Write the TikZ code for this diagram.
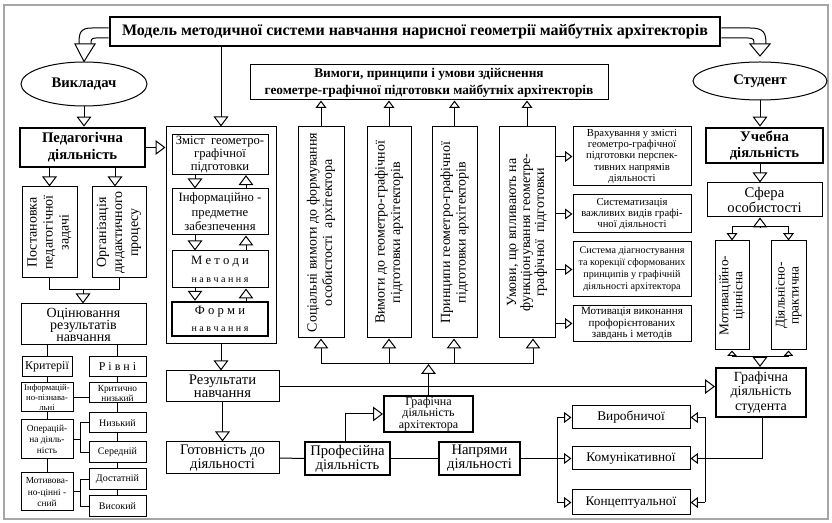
\documentclass[tikz,border=0pt]{standalone}
\usepackage{fontspec}
\setmainfont{Liberation Serif}
\usetikzlibrary{arrows.meta,shapes.geometric,calc}
\newcommand\fs[2]{\fontsize{#1}{#2}\selectfont}
\newcommand\bx[7]{\node[#6, minimum width={(#4-#2)*0.75pt}, minimum height={(#5-#3)*0.75pt}] (#1) at ({(#2+#4)/2},{(#3+#5)/2}) {#7};}
\newcommand\vbx[8]{\bx{#1}{#2}{#3}{#4}{#5}{#6}{}\node[rotate=90,align=center,inner sep=0pt,font=#7] at (#1.center) {#8};}
\begin{document}
\begin{tikzpicture}[x=0.75pt,y=-0.75pt,line width=0.75pt,
  box/.style={draw,inner sep=1pt,align=center},
  tbox/.style={box,line width=2pt},
  tri/.style={-{Triangle[open,length=7.5pt,width=11pt]}},
  tris/.style={-{Triangle[open,length=5.5pt,width=8pt]}},
  trit/.style={-{Triangle[open,length=4pt,width=7pt]}}]
\useasboundingbox (0,0) rectangle (832,523);
\draw[gray!70,line width=1pt] (4,5) rectangle (828,519);

% title and actors
\bx{title}{110}{17}{720}{46}{tbox,font=\fs{12pt}{14pt}\bfseries}{Модель методичної системи навчання нарисної геометрії майбутніх архітекторів}
\node[draw,ellipse,minimum width=94.5pt,minimum height=33pt,inner sep=0pt,font=\fs{11pt}{12pt}\bfseries] (vykl) at (84,84) {Викладач};
\node[draw,ellipse,minimum width=100.5pt,minimum height=28.5pt,inner sep=0pt,font=\fs{11pt}{12pt}\bfseries] (stud) at (760,81) {Студент};

\draw (title.west |- 0,28) -- (92,28) .. controls (80,28) and (79,33) .. (79,44);
\draw (title.west |- 0,38) -- (96,38) .. controls (91,38) and (91,40) .. (91,44);
\draw[fill=white] (75,44) -- (95,44) -- (vykl.north) -- cycle;
\draw (title.east |- 0,28) -- (750,28) .. controls (764,28) and (766,33) .. (766,44);
\draw (title.east |- 0,38) -- (748,38) .. controls (754,38) and (754,40) .. (754,44);
\draw[fill=white] (750,44) -- (770,44) -- (760,56) -- cycle;

\bx{vym}{250}{65}{608}{100}{box,font=\fs{10pt}{12.5pt}\bfseries}{Вимоги, принципи і умови здійснення\\геометре-графічної підготовки майбутніх архітекторів}

% left column
\bx{ped}{20}{128}{145}{167}{tbox,font=\fs{11pt}{13pt}\bfseries}{Педагогічна\\діяльність}
\vbx{post}{22}{187}{77}{278}{box}{\fs{10.5pt}{12pt}}{Постановка\\педагогічної\\задачі}
\vbx{org}{92}{187}{146}{278}{box}{\fs{10.5pt}{12pt}}{Організація\\дидактичного\\процесу}
\bx{ots}{21}{304}{146}{345}{box,font=\fs{10.5pt}{9pt}}{Оцінювання\\результатів\\навчання}
\bx{krit}{22}{357}{72}{377}{box,font=\fs{9pt}{10pt}}{Критерії}
\bx{rivni}{89}{357}{146}{377}{box,font=\fs{9pt}{10pt}}{Р і в н і}
\bx{k1}{21}{383}{73}{412}{box,inner sep=0pt,font=\fs{6.5pt}{7.2pt}}{Інформацій-\\но-пізнава-\\льні}
\bx{k2}{21}{420}{73}{459}{box,inner sep=0pt,font=\fs{7pt}{8.5pt}}{Операцій-\\на діяль-\\ність}
\bx{k3}{21}{473}{73}{511}{box,inner sep=0pt,font=\fs{7pt}{8.5pt}}{Мотивова-\\но-цінні -\\сний}
\bx{r1}{89}{383}{146}{403}{box,inner sep=0pt,font=\fs{7pt}{7.5pt}}{Критично\\низький}
\bx{r2}{89}{413}{146}{433}{box,font=\fs{7.5pt}{8pt}}{Низький}
\bx{r3}{89}{442}{146}{463}{box,font=\fs{7.5pt}{8pt}}{Середній}
\bx{r4}{89}{469}{146}{490}{box,font=\fs{7.5pt}{8pt}}{Достатній}
\bx{r5}{89}{496}{146}{517}{box,font=\fs{7.5pt}{8pt}}{Високий}

% central column
\bx{big}{166}{127}{276}{344}{box}{}
\bx{zm}{172}{135}{268}{174}{box,font=\fs{9.5pt}{10pt}}{Зміст\ \ геометро-\\графічної\\підготовки}
\bx{inf}{172}{189}{268}{235}{box,font=\fs{9.5pt}{11pt}}{Інформаційно -\\предметне\\забезпечення}
\bx{met}{172}{251}{268}{288}{box,font=\fs{9.5pt}{13pt}}{М е т о д и\\{\fs{7.5pt}{13pt}н а в ч а н н я}}
\bx{form}{172}{302}{268}{336}{box,line width=1.8pt,font=\fs{9.5pt}{13pt}}{Ф о р м и\\{\fs{7.5pt}{13pt}н а в ч а н н я}}
\bx{res}{166}{371}{279}{402}{box,font=\fs{11pt}{10pt}}{Результати\\навчання}
\bx{got}{166}{442}{279}{474}{box,font=\fs{11pt}{10pt}}{Готовність до\\діяльності}

% vertical boxes
\vbx{v1}{298}{127}{344}{338}{box}{\fs{10.5pt}{11.5pt}}{Соціальні вимоги до формування\\особистості\ \ архітектора}
\vbx{v2}{367}{127}{411}{338}{box}{\fs{10.5pt}{11.5pt}}{Вимоги до геометро-графічної\\підготовки архітекторів}
\vbx{v3}{432}{127}{477}{338}{box}{\fs{10.5pt}{11.5pt}}{Принципи геометро-графічної\\підготовки архітекторів}
\vbx{v4}{499}{127}{555}{338}{box}{\fs{10.5pt}{10.5pt}}{Умови, що впливають на\\функціонування геометре-\\графічної\ \ підготовки}

% right small boxes
\bx{ra}{573}{127}{691}{186}{box,font=\fs{8pt}{8.6pt}}{Врахування у змісті\\геометро-графічної\\підготовки перспек-\\тивних напрямів\\діяльності}
\bx{rb}{573}{195}{691}{233}{box,font=\fs{8pt}{8.6pt}}{Систематизація\\важливих видів графі-\\чної діяльності}
\bx{rc}{573}{242}{691}{297}{box,font=\fs{7.6pt}{9pt}}{Система діагностування\\та корекції сформованих\\принципів у графічній\\діяльності архітектора}
\bx{rd}{573}{307}{691}{340}{box,font=\fs{8.3pt}{8.6pt}}{Мотивація виконання\\профорієнтованих\\завдань і методів}

% right column
\bx{uch}{706}{128}{823}{163}{tbox,font=\fs{11pt}{12pt}\bfseries}{Учебна\\діяльність}
\bx{sf}{707}{183}{822}{217}{box,font=\fs{11pt}{11pt}}{Сфера\\особистості}
\vbx{mot}{715}{241}{749}{350}{box}{\fs{10pt}{10.5pt}}{Мотиваційно-\\ціннісна}
\vbx{dia}{771}{241}{806}{350}{box}{\fs{10pt}{10.5pt}}{Діяльнісно-\\практична}
\bx{grst}{716}{368}{806}{417}{box,line width=1.5pt,font=\fs{10.5pt}{11pt}}{Графічна\\діяльність\\студента}

% bottom
\bx{grar}{384}{397}{473}{431}{box,line width=1.5pt,font=\fs{9pt}{8.5pt}}{Графічна\\діяльність\\архітектора}
\bx{prof}{305}{442}{390}{475}{box,line width=1.2pt,font=\fs{11pt}{10.5pt}}{Професійна\\діяльність}
\bx{napr}{439}{442}{520}{475}{box,line width=1.2pt,font=\fs{11pt}{10.5pt}}{Напрями\\діяльності}
\bx{vyr}{572}{406}{690}{429}{box,font=\fs{10pt}{11pt}}{Виробничої}
\bx{kom}{572}{447}{690}{470}{box,font=\fs{10pt}{11pt}}{Комунікативної}
\bx{kon}{572}{490}{690}{515}{box,font=\fs{10pt}{11pt}}{Концептуальної}

% connectors: top
\draw[tri] (title.south -| big.north) -- (big.north);
\draw[tri] (vykl.south) -- (vykl.south |- ped.north);
\draw[tri] (stud.south) -- (stud.south |- uch.north);
\foreach \v in {v1,v2,v3,v4}{\draw[tris] (\v.north) -- (\v.north |- vym.south);}

% left
\draw[tri] (ped.east) -- (ped.east -| big.west);
\draw[tri] (ped.south -| post.north) -- (post.north);
\draw[tri] (ped.south -| 115,0) -- (org.north -| 115,0);
\draw (post.south) -- (post.south |- 0,290) -- (org.south |- 0,290) -- (org.south);
\draw[tri] (83,290) -- (ots.north -| 83,0);
\draw (ots.south -| krit.north) -- (krit.north);
\draw (ots.south -| rivni.north) -- (rivni.north);
\draw (krit.south) -- (k1.north -| krit.south);
\draw (k1.south -| krit.south) -- (k2.north -| krit.south);
\draw (k2.south -| krit.south) -- (k3.north -| krit.south);
\draw (rivni.south) -- (r1.north -| rivni.south);
\draw (r1.south -| rivni.south) -- (r2.north -| rivni.south);
\draw (r2.south -| rivni.south) -- (r3.north -| rivni.south);
\draw (r3.south -| rivni.south) -- (r4.north -| rivni.south);
\draw (r4.south -| rivni.south) -- (r5.north -| rivni.south);
\draw (k1.east) -- (k1.east -| r1.west);
\draw (k2.east) -- (k2.east -| 80,0);
\draw (r2.west) -- (r2.west -| 80,0) -- (r3.west -| 80,0) -- (r3.west);
\draw (k3.east) -- (k3.east -| 80,0);
\draw (r4.west) -- (r4.west -| 80,0) -- (r5.west -| 80,0) -- (r5.west);

% central
\draw[tri] (zm.south -| 195,0) -- (inf.north -| 195,0);
\draw[tri] (inf.north -| 246,0) -- (zm.south -| 246,0);
\draw[tri] (inf.south -| 195,0) -- (met.north -| 195,0);
\draw[tri] (met.north -| 246,0) -- (inf.south -| 246,0);
\draw[tri] (met.south -| 195,0) -- (form.north -| 195,0);
\draw[tri] (form.north -| 246,0) -- (met.south -| 246,0);
\draw[tri] (big.south) -- (big.south |- res.north);
\draw[tri] (res.south) -- (got.north);
\draw[tri] (res.east) -- (res.east -| grst.west);

% vertical boxes bottom
\draw (321,364) -- (533,364);
\draw[tri] (321,364) -- (v1.south -| 321,0);
\draw[tri] (389,364) -- (v2.south -| 389,0);
\draw[tri] (454,364) -- (v3.south -| 454,0);
\draw[tri] (533,364) -- (v4.south -| 533,0);
\draw[tri] (grar.north) -- (grar.north |- 0,364);
\foreach \r in {ra,rb,rc,rd}{\draw[tris] (\r.west -| v4.east) -- (\r.west);}

% bottom
\draw (got.east) -- (prof.west);
\draw (prof.east) -- (napr.west);
\draw[tri] (prof.north -| 345,0) |- (grar.west);
\draw (napr.east) -- (napr.east -| 557,0);
\draw (vyr.west -| 557,0) -- (kon.west -| 557,0);
\foreach \b in {vyr,kom,kon}{\draw[tris] (\b.west -| 557,0) -- (\b.west);}
\draw (grst.south -| 762,0) |- (kom.east -| 705,0);
\draw (vyr.east -| 705,0) -- (kon.east -| 705,0);
\foreach \b in {vyr,kom,kon}{\draw[tris] (\b.east -| 705,0) -- (\b.east);}

% right column
\draw[tri] (uch.south -| 760,0) -- (sf.north -| 760,0);
\draw[tri] (760,227) -- (sf.south -| 760,0);
\draw (mot.north |- 0,227) -- (dia.north |- 0,227);
\draw[tris] (mot.north |- 0,227) -- (mot.north);
\draw[tris] (dia.north |- 0,227) -- (dia.north);
\draw (mot.south |- 0,357) -- (dia.south |- 0,357);
\draw[trit] (mot.south |- 0,357) -- (mot.south);
\draw[trit] (dia.south |- 0,357) -- (dia.south);
\draw[tri] (760,357) -- (grst.north -| 760,0);
\end{tikzpicture}
\end{document}
